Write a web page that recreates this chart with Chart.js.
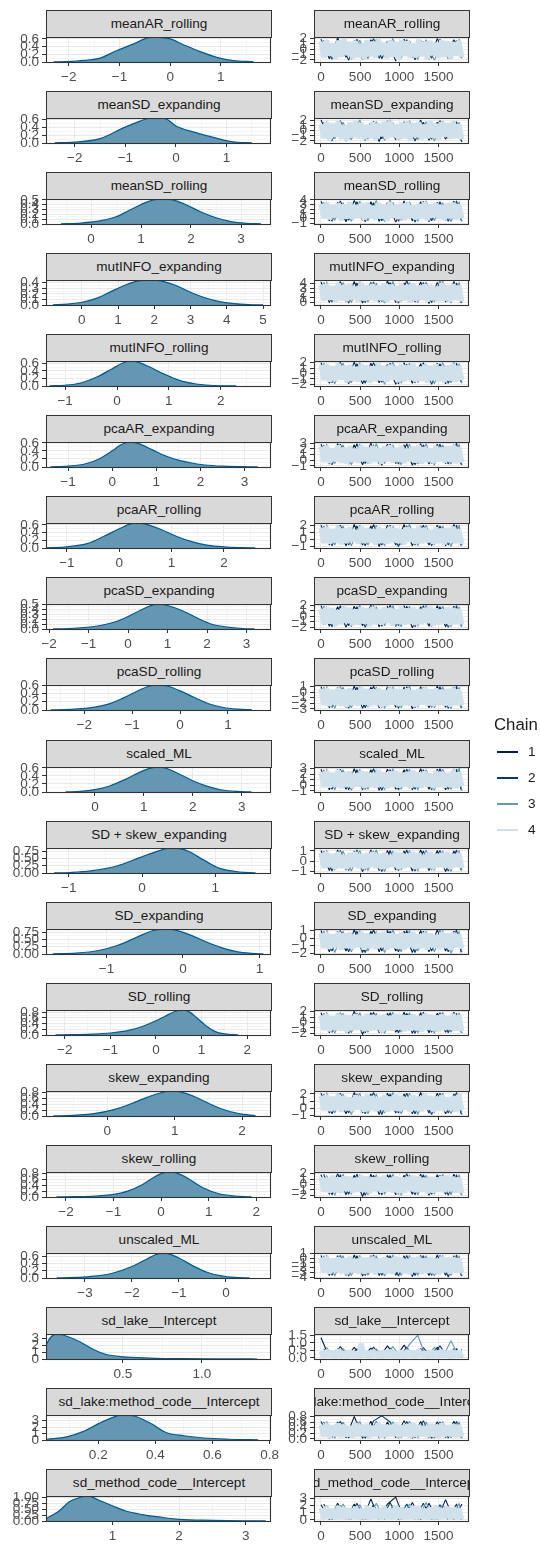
<!DOCTYPE html>
<html><head><meta charset="utf-8">
<script src="https://cdn.jsdelivr.net/npm/chart.js@4.4.1/dist/chart.umd.min.js"></script>
<style>
html,body{margin:0;padding:0;background:#fff;}
#root{position:relative;width:540px;height:1546px;overflow:hidden;font-family:'Liberation Sans',Arial,sans-serif;}
#root canvas{position:absolute;}
.strip{position:absolute;box-sizing:border-box;background:#d9d9d9;border:1px solid #333;overflow:hidden;}
.strip span{position:absolute;left:50%;top:50%;transform:translate(-50%,-52%);white-space:nowrap;font-size:13.6px;color:#1a1a1a;}
.lg{position:absolute;white-space:nowrap;color:#1a1a1a;}
.lgline{position:absolute;height:1.6px;}
</style></head><body><div id="root"></div>
<script>
// ---------------- data ----------------
const params = ["meanAR_rolling","meanSD_expanding","meanSD_rolling","mutINFO_expanding","mutINFO_rolling","pcaAR_expanding","pcaAR_rolling","pcaSD_expanding","pcaSD_rolling","scaled_ML","SD + skew_expanding","SD_expanding","SD_rolling","skew_expanding","skew_rolling","unscaled_ML","sd_lake__Intercept","sd_lake:method_code__Intercept","sd_method_code__Intercept"];

const densX = [
 [-2.3,-2.04,-1.7,-1.38,-1.05,-0.72,-0.5,-0.33,-0.15,0,0.26,0.59,0.92,1.25,1.64],
 [-2.4,-2.03,-1.5,-1.04,-0.71,-0.55,-0.35,-0.18,0.01,0.34,0.74,1.13,1.5],
 [-0.6,-0.2,0.2,0.5,0.8,1.1,1.3,1.5,1.7,1.9,2.2,2.5,2.8,3.1,3.4],
 [-0.8,-0.4,0,0.4,0.8,1.2,1.6,1.9,2.2,2.6,3.0,3.4,3.8,4.2,4.6,5.0],
 [-1.3,-1.0,-0.7,-0.4,-0.1,0.1,0.25,0.4,0.6,0.9,1.2,1.5,1.8,2.1,2.3],
 [-1.4,-1.0,-0.6,-0.3,0,0.2,0.4,0.6,0.9,1.2,1.5,1.8,2.1,2.5,2.9,3.3],
 [-1.4,-1.0,-0.6,-0.3,0,0.2,0.35,0.5,0.8,1.1,1.4,1.7,2.0,2.3,2.6],
 [-1.9,-1.5,-1.1,-0.7,-0.3,0,0.3,0.55,0.75,0.95,1.2,1.5,1.8,2.1,2.5,2.9,3.2],
 [-2.7,-2.3,-1.9,-1.5,-1.2,-0.9,-0.65,-0.45,-0.25,0,0.3,0.6,0.9,1.2,1.5],
 [-0.6,-0.3,0,0.3,0.6,0.9,1.1,1.3,1.5,1.7,2.0,2.3,2.6,2.9,3.2],
 [-1.2,-0.98,-0.7,-0.34,-0.03,0.24,0.4,0.52,0.65,0.79,0.93,1.07,1.2,1.33,1.55],
 [-1.7,-1.4,-1.1,-0.85,-0.6,-0.4,-0.25,-0.1,0.1,0.3,0.5,0.7,0.9,1.05],
 [-2.2,-1.8,-1.4,-1.0,-0.6,-0.3,0,0.2,0.4,0.55,0.7,0.9,1.1,1.3,1.5,1.8],
 [-0.8,-0.5,-0.2,0.1,0.35,0.6,0.8,0.95,1.1,1.3,1.5,1.7,1.95,2.2],
 [-2.2,-1.8,-1.4,-1.0,-0.7,-0.4,-0.15,0.05,0.2,0.4,0.65,0.9,1.2,1.5,1.9],
 [-3.6,-3.2,-2.8,-2.4,-2.0,-1.7,-1.5,-1.35,-1.2,-1.0,-0.7,-0.4,-0.1,0.2,0.5],
 [0.013,0.04,0.08,0.14,0.23,0.31,0.39,0.5,0.67,0.88,1.1,1.35],
 [0.02,0.09,0.146,0.203,0.249,0.28,0.326,0.383,0.44,0.5,0.57,0.66,0.76],
 [0.005,0.2,0.35,0.55,0.63,0.8,1.0,1.2,1.45,1.7,2.0,2.5,3.0,3.3]
];
const densY = [
 [0.003,0.01,0.04,0.1,0.3,0.47,0.6,0.65,0.63,0.6,0.45,0.27,0.12,0.035,0.008],
 [0.005,0.02,0.11,0.38,0.55,0.62,0.63,0.6,0.42,0.28,0.14,0.03,0.005],
 [0.003,0.02,0.07,0.15,0.3,0.45,0.51,0.52,0.48,0.4,0.25,0.13,0.05,0.015,0.003],
 [0.003,0.015,0.05,0.12,0.24,0.36,0.44,0.45,0.43,0.35,0.23,0.13,0.06,0.025,0.008,0.002],
 [0.004,0.02,0.08,0.23,0.45,0.6,0.66,0.63,0.52,0.32,0.15,0.06,0.02,0.005,0.002],
 [0.004,0.02,0.08,0.2,0.4,0.55,0.62,0.58,0.43,0.28,0.17,0.1,0.05,0.02,0.008,0.002],
 [0.004,0.03,0.12,0.3,0.5,0.62,0.65,0.62,0.48,0.3,0.16,0.07,0.03,0.01,0.002],
 [0.003,0.01,0.03,0.07,0.15,0.25,0.37,0.46,0.5,0.48,0.42,0.32,0.2,0.1,0.04,0.01,0.003],
 [0.003,0.015,0.05,0.14,0.28,0.45,0.57,0.6,0.57,0.46,0.3,0.15,0.06,0.02,0.004],
 [0.003,0.015,0.06,0.15,0.3,0.48,0.58,0.62,0.57,0.46,0.28,0.14,0.05,0.015,0.003],
 [0.004,0.017,0.07,0.24,0.53,0.77,0.86,0.84,0.73,0.52,0.32,0.15,0.08,0.034,0.004],
 [0.005,0.03,0.12,0.3,0.58,0.8,0.86,0.82,0.65,0.42,0.22,0.08,0.02,0.004],
 [0.003,0.01,0.03,0.07,0.16,0.3,0.5,0.66,0.82,0.88,0.84,0.6,0.32,0.12,0.04,0.005],
 [0.004,0.02,0.08,0.22,0.42,0.65,0.8,0.86,0.82,0.66,0.44,0.24,0.08,0.015],
 [0.003,0.01,0.03,0.09,0.2,0.42,0.68,0.83,0.86,0.78,0.55,0.3,0.12,0.04,0.005],
 [0.003,0.015,0.05,0.14,0.32,0.52,0.65,0.7,0.67,0.56,0.34,0.16,0.06,0.015,0.003],
 [2.0,3.06,3.6,3.31,2.45,1.4,0.68,0.32,0.14,0.04,0.01,0.003],
 [0.12,0.5,1.3,2.6,3.5,3.9,3.75,2.6,1.13,0.66,0.31,0.12,0.02],
 [0.1,0.42,0.8,1.02,1.05,0.87,0.64,0.42,0.27,0.17,0.07,0.03,0.01,0.003]
];
const densXRange = [[-2.45,1.99],[-2.57,1.88],[-0.9,3.6],[-0.99,5.22],[-1.37,2.97],[-1.5,3.6],[-1.4,2.9],[-2.08,3.62],[-2.8,1.9],[-1.0,3.6],[-1.31,1.76],[-1.79,1.15],[-2.41,2.52],[-0.91,2.43],[-2.42,2.31],[-3.83,0.96],[0.013,1.437],[0.017,0.805],[0.004,3.38]];
const densXTicks = [[-2,-1,0,1],[-2,-1,0,1],[0,1,2,3],[0,1,2,3,4,5],[-1,0,1,2],[-1,0,1,2,3],[-1,0,1,2],[-2,-1,0,1,2,3],[-2,-1,0,1],[0,1,2,3],[-1,0,1],[-1,0,1],[-2,-1,0,1,2],[0,1,2],[-2,-1,0,1,2],[-3,-2,-1,0],[0.5,1.0],[0.2,0.4,0.6,0.8],[1,2,3]];
const densYTicks = [[0,0.2,0.4,0.6],[0,0.2,0.4,0.6],[0,0.1,0.2,0.3,0.4,0.5],[0,0.1,0.2,0.3,0.4],[0,0.2,0.4,0.6],[0,0.2,0.4,0.6],[0,0.2,0.4,0.6],[0,0.1,0.2,0.3,0.4,0.5],[0,0.2,0.4,0.6],[0,0.2,0.4,0.6],[0,0.25,0.5,0.75],[0,0.25,0.5,0.75],[0,0.2,0.4,0.6,0.8],[0,0.2,0.4,0.6,0.8],[0,0.2,0.4,0.6,0.8],[0,0.2,0.4,0.6],[0,1,2,3],[0,1,2,3],[0,0.25,0.5,0.75,1]];

const traceYRange = [[-2.4,2.3],[-2.4,2.4],[-1.2,4.2],[-0.5,4.7],[-2.3,2.3],[-1.2,3.2],[-1.2,2.3],[-2.3,2.2],[-3.2,1.3],[-1.2,3.3],[-1.2,1.3],[-2.1,1.2],[-2.3,2.3],[-1.1,2.4],[-2.3,2.3],[-4.2,1.1],[-0.08,1.6],[-0.04,0.85],[-0.15,3.3]];
const traceYTicks = [[-2,-1,0,1,2],[-2,-1,0,1,2],[-1,0,1,2,3,4],[0,1,2,3,4],[-2,-1,0,1,2],[-1,0,1,2,3],[-1,0,1,2],[-2,-1,0,1,2],[-3,-2,-1,0,1],[-1,0,1,2,3],[-1,0,1],[-2,-1,0,1],[-2,-1,0,1,2],[-1,0,1,2],[-2,-1,0,1,2],[-4,-3,-2,-1,0,1],[0,0.5,1,1.5],[0,0.2,0.4,0.6,0.8],[0,1,2,3]];
const traceXRange = [-89,1890];
const traceXTicks = [0,500,1000,1500];

const chainLabels = ["1","2","3","4"];
const iter1 = [1,107,213,319,425,531,637,743,849,955,1061,1167,1273,1379,1485,1591,1697,1800];
const iter2 = [35,141,247,353,459,565,671,777,883,989,1095,1201,1307,1413,1519,1625,1731,1790];
const iter3 = [70,176,282,388,494,600,706,812,918,1024,1130,1236,1342,1448,1554,1660,1766,1795];
const iter4 = [1,38,74,111,148,184,221,258,294,331,368,404,441,478,514,551,588,624,661,698,734,771,808,844,881,918,954,991,1028,1064,1101,1138,1174,1211,1248,1284,1321,1358,1394,1431,1468,1504,1541,1578,1614,1651,1688,1724,1761,1798];

const chain1 = [
 [1.9,-1.8,2.1,-1.5,1.6,-2.0,1.8,-1.7,1.5,-2.2,1.9,-1.6,1.7,-1.9,2.0,-1.4,1.8,-1.7],
 [2.0,-1.7,1.7,-2.0,1.8,-1.5,1.6,-2.1,1.9,-1.8,1.7,-1.6,2.0,-1.9,1.6,-1.7,1.8,-2.2],
 [3.7,-0.5,3.5,-0.7,3.9,-0.4,3.6,-0.6,3.4,-0.8,3.8,-0.5,3.6,-0.7,3.5,-0.4,3.7,-0.6],
 [4.3,0.0,4.1,0.2,4.4,-0.1,4.2,0.1,4.5,0.0,4.1,0.2,4.3,-0.2,4.2,0.1,4.4,0.0],
 [2.0,-1.8,1.8,-1.6,2.1,-1.9,1.9,-1.7,1.7,-2.0,2.0,-1.8,1.8,-1.6,1.9,-1.9,2.0,-1.7],
 [2.8,-0.7,2.9,-0.6,2.7,-0.8,3.0,-0.7,2.8,-0.6,2.7,-0.9,2.9,-0.7,2.8,-0.6,2.7,-0.8],
 [2.0,-0.8,1.9,-0.9,2.1,-0.8,1.9,-1.0,2.0,-0.8,2.1,-0.9,1.9,-0.8,2.0,-0.9,2.1,-0.8],
 [1.9,-1.8,1.7,-2.0,1.8,-1.7,2.0,-1.9,1.8,-1.8,1.9,-2.1,1.7,-1.8,1.9,-1.9,1.8,-1.7],
 [1.0,-2.8,0.9,-2.7,1.1,-2.9,0.9,-2.8,1.0,-2.7,0.9,-3.0,1.0,-2.8,1.1,-2.7,0.9,-2.8],
 [2.9,-0.8,2.8,-0.7,3.0,-0.8,2.8,-0.9,2.9,-0.7,2.8,-0.8,3.0,-0.7,2.9,-0.8,2.8,-0.9],
 [1.05,-0.95,1.1,-0.9,1.0,-1.05,1.1,-0.95,1.05,-0.9,1.0,-1.0,1.1,-0.95,1.05,-1.05,1.0,-0.9],
 [1.0,-1.8,0.9,-1.7,1.1,-1.9,0.9,-1.8,1.0,-1.7,0.9,-1.9,1.0,-1.8,1.1,-1.7,0.9,-1.8],
 [1.8,-1.9,1.7,-1.8,2.1,-2.2,1.8,-1.9,1.7,-1.8,1.9,-2.0,1.8,-1.9,1.7,-1.8,1.9,-1.9],
 [2.1,-0.7,2.0,-0.8,2.2,-0.7,2.0,-0.9,2.1,-0.7,2.0,-0.8,2.2,-0.7,2.1,-0.8,2.0,-0.9],
 [1.8,-1.8,2.0,-1.9,1.7,-2.2,1.9,-1.8,1.8,-1.9,1.7,-1.8,1.9,-2.0,1.8,-1.8,1.9,-1.9],
 [0.6,-3.7,0.5,-3.6,0.7,-3.8,0.5,-3.7,0.6,-3.6,0.5,-3.9,0.6,-3.7,0.7,-3.6,0.5,-3.8],
 [1.35,0.02,0.6,0.03,0.7,0.01,0.65,0.02,0.8,0.03,0.85,0.02,0.62,0.01,0.7,0.03,0.6,0.02],
 [0.62,0.03,0.6,0.04,0.8,0.02,0.63,0.03,0.6,0.04,0.65,0.02,0.62,0.03,0.61,0.04,0.63,0.03],
 [2.1,0.05,2.3,0.08,2.2,0.04,2.9,0.06,2.2,3.15,0.05,2.4,0.07,2.3,0.04,2.8,0.06,2.2]
];
const chain2 = [
 [1.7,-1.9,1.5,-2.1,1.9,-1.6,2.0,-1.8,1.6,-1.9,1.8,-2.0,1.5,-1.7,1.9,-1.8,1.7,-1.6],
 [1.6,-2.0,1.9,-1.7,1.5,-1.9,1.8,-1.6,2.0,-1.8,1.7,-2.0,1.6,-1.7,1.9,-1.5,1.7,-1.9],
 [3.5,-0.6,3.8,-0.4,3.6,-0.7,3.4,-0.5,3.9,-0.6,3.5,-0.8,3.7,-0.5,3.6,-0.6,3.8,-0.4],
 [4.2,0.1,4.4,-0.1,4.1,0.0,4.3,0.2,4.2,-0.1,4.6,0.1,4.2,0.0,4.4,0.2,4.1,-0.1],
 [1.9,-1.7,2.1,-1.9,1.8,-1.8,2.0,-1.6,1.9,-1.9,1.7,-1.7,2.0,-2.0,1.8,-1.8,1.9,-1.6],
 [2.7,-0.8,2.8,-0.7,2.9,-0.6,2.7,-0.9,2.8,-0.7,2.9,-0.8,2.7,-0.6,2.8,-0.7,3.0,-0.8],
 [1.9,-0.9,2.0,-0.8,1.9,-0.9,2.1,-0.8,2.0,-1.0,1.9,-0.8,2.0,-0.9,1.9,-0.8,2.0,-0.9],
 [1.8,-1.9,1.9,-1.7,1.7,-2.0,1.9,-1.8,2.0,-1.7,1.8,-1.9,1.9,-1.8,1.7,-2.0,1.9,-1.8],
 [0.9,-2.7,1.0,-2.9,0.9,-2.8,1.1,-2.7,0.9,-2.9,1.0,-2.8,0.9,-2.7,1.0,-2.9,1.1,-2.8],
 [2.8,-0.7,2.9,-0.8,2.8,-0.7,3.0,-0.9,2.8,-0.8,2.9,-0.7,2.8,-0.8,3.0,-0.7,2.9,-0.8],
 [1.0,-1.0,1.05,-0.95,1.1,-0.9,1.0,-1.05,1.05,-0.95,1.1,-1.0,1.0,-0.9,1.05,-1.0,1.1,-0.95],
 [0.9,-1.7,1.0,-1.8,0.9,-1.9,1.1,-1.7,0.9,-1.8,1.0,-1.9,0.9,-1.7,1.0,-1.8,1.1,-1.9],
 [1.7,-1.8,1.8,-2.0,1.7,-1.9,1.9,-1.8,1.8,-1.9,1.7,-2.0,1.9,-1.8,1.8,-1.9,1.7,-1.8],
 [2.0,-0.8,2.1,-0.7,2.0,-0.8,2.2,-0.9,2.0,-0.7,2.1,-0.8,2.0,-0.9,2.1,-0.7,2.2,-0.8],
 [1.9,-1.9,1.8,-1.8,1.9,-2.0,1.7,-1.9,1.8,-1.8,2.0,-1.9,1.8,-1.8,1.7,-2.0,1.8,-1.8],
 [0.5,-3.6,0.6,-3.8,0.5,-3.7,0.7,-3.6,0.5,-3.8,0.6,-3.7,0.5,-3.6,0.6,-4.0,0.7,-3.7],
 [0.6,0.01,0.75,0.03,0.6,0.02,0.72,0.01,0.65,0.03,0.7,0.02,0.68,0.01,0.8,0.03,0.62,0.02],
 [0.6,0.04,0.63,0.03,0.61,0.02,0.64,0.82,0.6,0.03,0.62,0.04,0.65,0.02,0.6,0.03,0.62,0.04],
 [2.2,0.06,2.0,0.05,2.3,0.07,2.1,0.04,2.4,0.06,2.2,0.05,2.3,0.07,2.1,0.04,2.2,0.06]
];
const chain3 = [
 [1.8,-1.7,1.6,-1.9,1.7,-1.8,1.9,-1.5,2.0,-1.7,1.6,-1.9,1.8,-2.1,1.6,-1.8,1.9,-1.7],
 [1.8,-1.6,1.6,-1.8,2.0,-1.7,1.7,-1.9,1.5,-1.6,1.9,-1.8,1.7,-2.0,1.8,-1.6,1.6,-1.8],
 [3.6,-0.4,3.4,-0.6,3.7,-0.5,3.9,-0.7,3.5,-0.4,3.6,-0.6,3.8,-0.5,3.4,-0.7,3.6,-0.5],
 [4.4,0.2,4.2,0.0,4.3,0.1,4.1,-0.1,4.4,0.2,4.2,0.0,4.3,0.1,4.5,-0.1,4.2,0.1],
 [1.8,-1.9,1.9,-1.7,2.0,-1.6,1.8,-2.0,2.1,-1.8,1.9,-1.7,1.7,-1.9,2.0,-1.7,1.8,-1.8],
 [2.9,-0.6,2.7,-0.8,2.8,-0.7,2.9,-0.6,2.7,-0.8,2.8,-0.7,2.9,-0.9,2.7,-0.7,2.8,-0.6],
 [2.1,-0.8,1.9,-0.9,2.0,-0.8,2.0,-0.9,1.9,-0.8,2.1,-0.9,2.0,-0.8,1.9,-1.0,2.0,-0.8],
 [1.7,-1.8,1.8,-1.9,2.0,-1.8,1.7,-1.7,1.9,-1.9,1.8,-1.8,2.0,-1.7,1.8,-1.9,1.7,-2.0],
 [1.1,-2.9,0.9,-2.8,1.0,-2.7,0.9,-2.9,1.0,-2.8,1.1,-2.7,0.9,-2.8,1.0,-3.0,0.9,-2.7],
 [3.0,-0.8,2.8,-0.9,2.9,-0.7,2.8,-0.8,3.0,-0.7,2.9,-0.8,2.8,-0.9,2.9,-0.7,3.1,-0.8],
 [1.1,-0.9,1.0,-1.0,1.05,-0.95,1.1,-1.05,1.0,-0.9,1.05,-1.0,1.1,-0.95,1.0,-1.05,1.05,-0.9],
 [1.1,-1.9,0.9,-1.8,1.0,-1.7,0.9,-1.9,1.1,-1.8,1.0,-1.7,0.9,-1.8,1.0,-2.0,0.9,-1.7],
 [1.9,-2.0,1.7,-1.9,1.8,-1.8,1.7,-2.0,1.9,-1.8,1.8,-1.9,1.7,-2.0,1.9,-1.8,1.8,-1.9],
 [2.2,-0.7,2.0,-0.9,2.1,-0.8,2.0,-0.7,2.2,-0.8,2.1,-0.9,2.0,-0.7,2.1,-0.8,2.0,-0.7],
 [1.7,-2.0,1.9,-1.8,1.8,-1.9,1.8,-1.8,1.9,-2.0,1.8,-1.9,1.7,-1.8,1.9,-1.9,1.8,-2.0],
 [0.7,-3.8,0.5,-3.7,0.6,-3.6,0.5,-3.8,0.7,-3.7,0.6,-3.6,0.5,-3.8,0.6,-3.7,0.5,-3.6],
 [0.7,0.03,0.62,0.02,0.68,0.01,0.6,0.03,0.75,0.02,0.9,1.52,0.02,0.7,0.03,1.15,0.01,0.6],
 [0.63,0.02,0.6,0.04,0.62,0.03,0.64,0.02,0.61,0.04,0.63,0.03,0.6,0.02,0.62,0.04,0.61,0.03],
 [2.0,0.07,2.2,0.05,2.1,0.06,2.3,0.04,2.0,0.07,2.2,0.05,2.4,0.06,2.1,0.04,2.3,0.05]
];
const chain4 = [
 [1.4,-1.6,1.7,-1.2,1.1,-1.8,1.6,-1.4,1.9,-1.1, 1.3,-1.7,1.5,-1.5,1.0,-1.9,1.7,-1.3,1.4,-1.6, 1.8,-1.0,1.2,-1.7,1.6,-1.4,1.3,-2.0,1.7,-1.2, 1.5,-1.6,1.1,-1.5,1.8,-1.3,1.4,-1.8,1.6,-1.1, 1.2,-1.6,1.7,-1.4,1.5,-1.7,1.3,-1.2,1.6,-1.5],
 [1.2,-1.5,1.6,-1.8,1.3,-1.2,1.7,-1.6,1.0,-1.9, 1.5,-1.3,1.8,-1.5,1.4,-1.7,1.1,-1.4,1.6,-1.8, 1.3,-1.1,1.7,-1.6,1.9,-1.3,1.2,-1.7,1.5,-1.5, 1.7,-1.9,1.4,-1.2,1.6,-1.7,1.1,-1.5,1.8,-1.4, 1.3,-1.8,1.6,-1.2,1.4,-1.6,1.7,-1.5,1.2,-1.7],
 [3.1,0.1,3.4,-0.2,2.8,0.3,3.3,-0.4,3.0,0.0, 3.5,-0.1,2.9,0.2,3.2,-0.3,3.4,0.1,2.7,-0.2, 3.3,0.0,3.0,-0.5,3.6,0.2,2.9,-0.1,3.2,-0.3, 3.4,0.1,2.8,-0.2,3.1,0.0,3.5,-0.4,3.0,0.2, 3.3,-0.1,2.9,-0.3,3.2,0.1,3.4,-0.2,3.0,0.0],
 [3.7,0.4,3.9,0.6,3.4,0.2,4.0,0.5,3.6,0.3, 3.8,0.7,3.3,0.2,4.1,0.4,3.6,0.6,3.9,0.3, 3.5,0.5,4.0,0.2,3.7,0.6,3.4,0.3,3.9,0.5, 3.6,0.1,4.0,0.4,3.5,0.6,3.8,0.2,3.7,0.5, 3.3,0.3,4.1,0.4,3.6,0.2,3.9,0.6,3.5,0.3],
 [1.5,-1.2,1.7,-1.5,1.3,-1.4,1.8,-1.1,1.4,-1.6, 1.6,-1.3,1.2,-1.5,1.7,-1.2,1.5,-1.7,1.3,-1.4, 1.8,-1.3,1.4,-1.5,1.6,-1.1,1.3,-1.6,1.7,-1.4, 1.5,-1.2,1.8,-1.5,1.2,-1.3,1.6,-1.7,1.4,-1.2, 1.7,-1.4,1.3,-1.6,1.5,-1.3,1.8,-1.5,1.4,-1.2],
 [2.3,-0.3,2.5,-0.5,2.1,-0.2,2.6,-0.4,2.2,-0.6, 2.4,-0.3,2.0,-0.4,2.6,-0.2,2.3,-0.5,2.5,-0.3, 2.1,-0.6,2.4,-0.2,2.6,-0.4,2.2,-0.3,2.5,-0.5, 2.0,-0.2,2.4,-0.4,2.6,-0.6,2.3,-0.3,2.1,-0.5, 2.5,-0.2,2.2,-0.4,2.4,-0.3,2.6,-0.5,2.3,-0.4],
 [1.6,-0.5,1.7,-0.6,1.4,-0.4,1.8,-0.7,1.5,-0.5, 1.7,-0.3,1.3,-0.6,1.8,-0.5,1.6,-0.4,1.4,-0.7, 1.7,-0.5,1.5,-0.6,1.8,-0.4,1.6,-0.5,1.4,-0.7, 1.7,-0.3,1.5,-0.6,1.8,-0.5,1.6,-0.4,1.3,-0.6, 1.7,-0.5,1.5,-0.7,1.6,-0.4,1.8,-0.5,1.4,-0.6],
 [1.3,-1.5,1.6,-1.3,1.4,-1.7,1.1,-1.4,1.7,-1.2, 1.5,-1.6,1.2,-1.5,1.6,-1.3,1.4,-1.8,1.7,-1.4, 1.3,-1.5,1.6,-1.2,1.5,-1.7,1.2,-1.4,1.7,-1.5, 1.4,-1.3,1.6,-1.6,1.3,-1.4,1.5,-1.2,1.7,-1.7, 1.4,-1.5,1.2,-1.3,1.6,-1.6,1.5,-1.4,1.3,-1.5],
 [0.6,-2.3,0.7,-2.5,0.4,-2.2,0.8,-2.4,0.5,-2.6, 0.7,-2.3,0.3,-2.4,0.8,-2.2,0.6,-2.5,0.5,-2.3, 0.7,-2.6,0.4,-2.4,0.8,-2.2,0.6,-2.5,0.5,-2.3, 0.7,-2.4,0.3,-2.6,0.6,-2.2,0.8,-2.4,0.5,-2.5, 0.7,-2.3,0.4,-2.4,0.6,-2.6,0.8,-2.3,0.5,-2.4],
 [2.4,-0.3,2.6,-0.4,2.2,-0.2,2.7,-0.5,2.3,-0.3, 2.5,-0.4,2.1,-0.2,2.6,-0.5,2.4,-0.3,2.2,-0.4, 2.7,-0.2,2.3,-0.5,2.5,-0.3,2.6,-0.4,2.2,-0.2, 2.4,-0.5,2.7,-0.3,2.3,-0.4,2.5,-0.2,2.1,-0.5, 2.6,-0.3,2.4,-0.4,2.2,-0.3,2.7,-0.5,2.3,-0.2],
 [0.8,-0.7,0.9,-0.6,0.7,-0.8,0.9,-0.7,0.6,-0.8, 0.8,-0.6,0.9,-0.7,0.7,-0.8,0.8,-0.6,0.9,-0.7, 0.7,-0.8,0.8,-0.7,0.6,-0.6,0.9,-0.8,0.8,-0.7, 0.7,-0.6,0.9,-0.8,0.8,-0.7,0.6,-0.7,0.9,-0.8, 0.7,-0.6,0.8,-0.7,0.9,-0.8,0.7,-0.6,0.8,-0.7],
 [0.6,-1.3,0.7,-1.4,0.5,-1.2,0.8,-1.5,0.6,-1.3, 0.7,-1.4,0.4,-1.2,0.8,-1.5,0.6,-1.3,0.5,-1.4, 0.7,-1.2,0.8,-1.5,0.6,-1.3,0.5,-1.4,0.7,-1.5, 0.6,-1.2,0.8,-1.4,0.5,-1.3,0.7,-1.5,0.6,-1.2, 0.4,-1.4,0.8,-1.3,0.6,-1.5,0.7,-1.2,0.5,-1.4],
 [1.3,-1.4,1.5,-1.6,1.2,-1.3,1.6,-1.5,1.4,-1.7, 1.3,-1.4,1.5,-1.3,1.2,-1.6,1.6,-1.5,1.4,-1.3, 1.3,-1.7,1.5,-1.4,1.2,-1.5,1.6,-1.3,1.4,-1.6, 1.3,-1.5,1.5,-1.4,1.2,-1.7,1.6,-1.3,1.4,-1.5, 1.3,-1.6,1.5,-1.4,1.2,-1.3,1.6,-1.5,1.4,-1.6],
 [1.7,-0.3,1.8,-0.4,1.6,-0.2,1.9,-0.5,1.7,-0.3, 1.5,-0.4,1.8,-0.2,1.6,-0.5,1.9,-0.3,1.7,-0.4, 1.5,-0.2,1.8,-0.5,1.6,-0.3,1.9,-0.4,1.7,-0.2, 1.5,-0.5,1.8,-0.3,1.6,-0.4,1.9,-0.2,1.7,-0.5, 1.6,-0.3,1.8,-0.4,1.5,-0.2,1.7,-0.5,1.9,-0.3],
 [1.4,-1.3,1.2,-1.5,1.6,-1.4,1.3,-1.6,1.5,-1.2, 1.4,-1.5,1.2,-1.3,1.6,-1.4,1.5,-1.6,1.3,-1.2, 1.4,-1.5,1.6,-1.3,1.2,-1.4,1.5,-1.6,1.3,-1.5, 1.4,-1.2,1.6,-1.4,1.5,-1.3,1.2,-1.6,1.4,-1.5, 1.3,-1.3,1.5,-1.4,1.6,-1.2,1.4,-1.5,1.3,-1.6],
 [0.1,-3.1,0.3,-3.3,-0.1,-2.9,0.2,-3.2,0.0,-3.4, 0.3,-3.0,-0.2,-3.2,0.2,-3.3,0.1,-3.0,0.3,-3.4, -0.1,-3.1,0.2,-3.2,0.0,-3.3,0.3,-2.9,0.1,-3.2, -0.2,-3.4,0.2,-3.0,0.3,-3.3,0.0,-3.1,0.2,-3.2, -0.1,-3.4,0.3,-3.0,0.1,-3.3,0.2,-3.1,0.0,-3.2],
 [0.45,0.02,0.5,0.04,0.4,0.01,0.55,0.03,0.42,0.02, 0.48,0.05,0.38,0.01,0.95,0.03,0.44,0.02,0.5,0.04, 0.41,0.01,0.47,0.03,0.52,0.02,0.39,0.04,0.46,0.01, 0.5,0.03,0.43,0.02,0.55,0.04,0.4,0.01,0.48,0.03, 0.44,0.02,0.51,0.04,0.42,0.01,0.49,0.03,0.45,0.02],
 [0.5,0.08,0.54,0.05,0.47,0.1,0.55,0.06,0.5,0.09, 0.45,0.05,0.56,0.08,0.49,0.1,0.53,0.06,0.46,0.09, 0.55,0.05,0.5,0.08,0.48,0.1,0.54,0.06,0.47,0.09, 0.52,0.05,0.56,0.08,0.49,0.1,0.45,0.06,0.53,0.09, 0.5,0.05,0.55,0.08,0.47,0.1,0.52,0.06,0.49,0.08],
 [1.6,0.1,1.8,0.2,1.5,0.08,1.9,0.15,1.7,0.1, 1.6,0.2,1.8,0.07,1.5,0.12,1.9,0.1,1.7,0.18, 1.6,0.08,1.8,0.15,1.5,0.1,2.0,0.2,1.7,0.07, 1.6,0.12,1.9,0.1,1.8,0.18,1.5,0.08,1.7,0.15, 1.9,0.1,1.6,0.2,1.8,0.07,1.7,0.12,1.6,0.1]
];

// ---------------- styling / layout ----------------
const FONT = "'Liberation Sans', Arial, sans-serif";
const chainColors = ['#011f4b', '#03396c', '#6497b1', '#d1e1ec'];
const DENS_FILL = '#6497b1', DENS_LINE = '#005b96';
const YW = 44, RP = 22, TP = 20, XH = 24, PH = 25, SH = 27;
const COLS = [[46, 271], [314, 469]];
const root = document.getElementById('root');

function rowTop(i) { return Math.round(10 + i * 81.06); }
function decimals(arr) {
  return Math.max(...arr.map(v => { const s = String(v); const k = s.indexOf('.'); return k < 0 ? 0 : s.length - k - 1; }));
}
function fmt(v, d) { return (v < 0 ? '\u2212' : '') + Math.abs(v).toFixed(d); }
function tickList(majors, lo, hi) {
  const out = majors.map(v => ({ value: v, major: true }));
  if (majors.length > 1) {
    const step = majors[1] - majors[0];
    for (let k = 0; k < majors.length - 1; k++) out.push({ value: (majors[k] + majors[k + 1]) / 2, major: false });
    out.push({ value: majors[0] - step / 2, major: false });
    out.push({ value: majors[majors.length - 1] + step / 2, major: false });
  }
  return out.filter(t => t.value >= lo - 1e-9 && t.value <= hi + 1e-9).sort((a, b) => a.value - b.value);
}
function axis(lo, hi, majors, isX) {
  const list = tickList(majors, lo, hi);
  const majorSet = new Set(list.filter(t => t.major).map(t => t.value));
  const d = decimals(majors);
  const isMaj = v => majorSet.has(v);
  return {
    type: 'linear', position: isX ? 'bottom' : 'left', min: lo, max: hi,
    afterBuildTicks: s => { s.ticks = list.map(t => ({ value: t.value })); },
    afterFit: s => { if (isX) s.height = XH; else s.width = YW; },
    border: { display: false },
    grid: {
      color: c => (c.tick && isMaj(c.tick.value)) ? '#e9e9e9' : '#f5f5f5',
      lineWidth: 1,
      drawTicks: true, tickLength: 4,
      tickColor: c => (c.tick && isMaj(c.tick.value)) ? '#333333' : 'rgba(0,0,0,0)',
      tickWidth: 1
    },
    ticks: {
      autoSkip: false, maxRotation: 0, minRotation: 0, padding: 3,
      color: '#4d4d4d', font: { family: FONT, size: 13.5 },
      callback: v => isMaj(v) ? fmt(v, d) : ''
    }
  };
}
const panelBorder = {
  id: 'panelBorder',
  afterDraw(chart) {
    const a = chart.chartArea, ctx = chart.ctx;
    ctx.save(); ctx.strokeStyle = '#333333'; ctx.lineWidth = 1.1;
    ctx.strokeRect(a.left + 0.5, a.top + 0.5, a.right - a.left - 1, a.bottom - a.top);
    ctx.restore();
  }
};
function addCanvas(col, pTop) {
  const [l, r] = COLS[col];
  const c = document.createElement('canvas');
  const w = YW + (r - l) + RP, h = TP + PH + XH;
  c.width = w; c.height = h;
  c.style.left = (l - YW) + 'px'; c.style.top = (pTop - TP) + 'px';
  c.style.width = w + 'px'; c.style.height = h + 'px';
  root.appendChild(c);
  return c;
}
function addStrip(col, sTop, text) {
  const [l, r] = COLS[col];
  const d = document.createElement('div');
  d.className = 'strip';
  d.style.left = l + 'px'; d.style.top = sTop + 'px';
  d.style.width = (r - l + 1) + 'px'; d.style.height = (SH + 1) + 'px';
  const s = document.createElement('span'); s.textContent = text; d.appendChild(s);
  root.appendChild(d);
}
const baseOpts = {
  responsive: false, animation: false, devicePixelRatio: 1, events: [],
  layout: { padding: { left: 0, right: RP, top: TP, bottom: 0 } },
  plugins: { legend: { display: false }, tooltip: { enabled: false } }
};

const iters = [iter1, iter2, iter3, iter4];
const chains = [chain1, chain2, chain3, chain4];

params.forEach((name, i) => {
  const sTop = rowTop(i), pTop = sTop + SH;
  // density panel
  const dx = densX[i], dy = densY[i];
  const pts = dx.map((x, k) => ({ x: x, y: dy[k] }));
  new Chart(addCanvas(0, pTop), {
    type: 'line',
    data: { datasets: [{ data: pts, fill: 'origin', backgroundColor: DENS_FILL, borderColor: DENS_LINE, borderWidth: 1.2, pointRadius: 0, cubicInterpolationMode: 'monotone', clip: 0 }] },
    options: Object.assign({}, baseOpts, { scales: {
      x: axis(densXRange[i][0], densXRange[i][1], densXTicks[i], true),
      y: axis(0, Math.max(...dy), densYTicks[i], false)
    } }),
    plugins: [panelBorder]
  });
  // trace panel
  const ds = chains.map((ch, c) => {
    const vals = ch[i], it = iters[c];
    const n = Math.min(vals.length, it.length);
    const data = [];
    for (let k = 0; k < n; k++) data.push({ x: it[k], y: vals[k] });
    const mean = vals.reduce((a, b) => a + b, 0) / vals.length;
    return {
      label: chainLabels[c], data: data, borderColor: chainColors[c],
      borderWidth: c === 3 ? 5.2 : 1.1, pointRadius: 0, tension: 0,
      borderJoinStyle: 'bevel', order: 3 - c, clip: 0,
      fill: c === 3 ? { value: mean } : false,
      backgroundColor: c === 3 ? chainColors[3] : 'rgba(0,0,0,0)'
    };
  });
  new Chart(addCanvas(1, pTop), {
    type: 'line',
    data: { datasets: ds },
    options: Object.assign({}, baseOpts, { scales: {
      x: axis(traceXRange[0], traceXRange[1], traceXTicks, true),
      y: axis(traceYRange[i][0], traceYRange[i][1], traceYTicks[i], false)
    } }),
    plugins: [panelBorder]
  });
  addStrip(0, sTop, name);
  addStrip(1, sTop, name);
});

// legend
(function () {
  const t = document.createElement('div');
  t.className = 'lg'; t.textContent = 'Chain';
  t.style.left = '494px'; t.style.top = '715px'; t.style.fontSize = '16.8px';
  root.appendChild(t);
  chainLabels.forEach((lab, k) => {
    const cy = 752 + 26 * k;
    const ln = document.createElement('div');
    ln.className = 'lgline'; ln.style.left = '497px'; ln.style.width = '21px';
    ln.style.top = (cy - 0.8) + 'px'; ln.style.background = chainColors[k];
    root.appendChild(ln);
    const tx = document.createElement('div');
    tx.className = 'lg'; tx.textContent = lab; tx.style.left = '528px';
    tx.style.top = (cy - 8) + 'px'; tx.style.fontSize = '13.6px'; tx.style.lineHeight = '16px';
    root.appendChild(tx);
  });
})();
</script></body></html>
